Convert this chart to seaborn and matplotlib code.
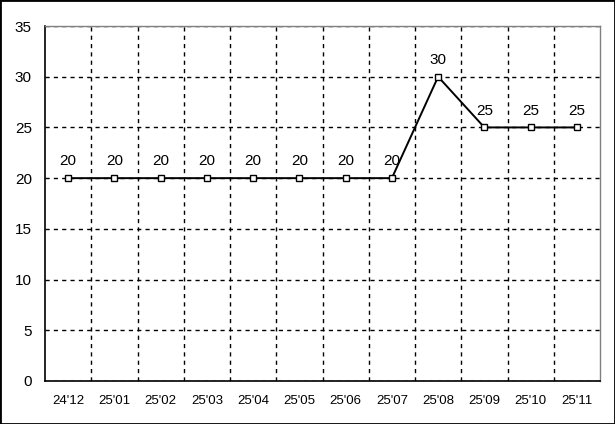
import matplotlib
matplotlib.use("Agg")
import matplotlib.pyplot as plt
import seaborn as sns
import pandas as pd
import numpy as np
from matplotlib.patches import Rectangle

months = ["24'12", "25'01", "25'02", "25'03", "25'04", "25'05",
          "25'06", "25'07", "25'08", "25'09", "25'10", "25'11"]
values = [20, 20, 20, 20, 20, 20, 20, 20, 30, 25, 25, 25]
y_ticks = [0, 5, 10, 15, 20, 25, 30, 35]

df = pd.DataFrame({"pos": np.arange(len(months)), "value": values})

sns.set_theme(style="white")
plt.rcParams["font.family"] = ["Liberation Sans", "DejaVu Sans"]

fig = plt.figure(figsize=(6.15, 4.24), dpi=100)
ax = fig.add_axes([45 / 615, 1 - 381 / 424, 555 / 615, 355 / 424])

sns.lineplot(data=df, x="pos", y="value", ax=ax, color="black", linewidth=1.4,
             marker="s", markersize=5, markerfacecolor="white",
             markeredgecolor="black", markeredgewidth=1)

# value labels above each point
for x, v in zip(df["pos"], df["value"]):
    ax.annotate(str(v), (x, v), xytext=(0, 7), textcoords="offset points",
                ha="center", va="bottom", fontsize=11, color="black")

ax.set_xlim(-0.5, len(months) - 0.5)
ax.set_ylim(0, 35)
ax.set_yticks(y_ticks)
ax.set_xticks(df["pos"])
ax.set_xticklabels(months)
ax.set_xticks(np.arange(0.5, len(months) - 0.5, 1), minor=True)
ax.set_xlabel("")
ax.set_ylabel("")
ax.tick_params(axis="both", which="both", length=0, colors="black")
ax.tick_params(axis="y", labelsize=11, pad=9.5)
ax.tick_params(axis="x", labelsize=9.5, pad=10)

ax.grid(True, axis="y", which="major", color="black", linestyle=(0, (3, 3)), linewidth=1)
ax.grid(True, axis="x", which="minor", color="black", linestyle=(0, (3, 3)), linewidth=1)
ax.grid(False, axis="x", which="major")
ax.set_axisbelow(True)

for side in ["left", "bottom"]:
    ax.spines[side].set_color("black")
    ax.spines[side].set_linewidth(1.2)
for side in ["top", "right"]:
    ax.spines[side].set_color("#808080")
    ax.spines[side].set_linewidth(1)

fig.patches.append(Rectangle((0, 0), 1, 1, transform=fig.transFigure,
                             fill=False, edgecolor="black", linewidth=2))

fig.savefig("out.png", dpi=100)
